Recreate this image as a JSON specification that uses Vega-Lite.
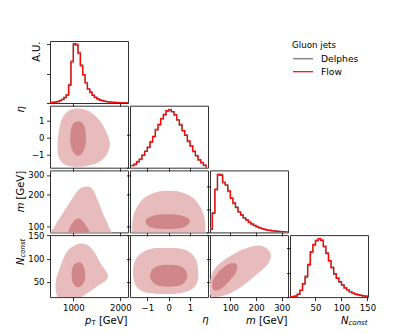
{
"$schema": "https://vega.github.io/schema/vega-lite/v6.json",
"padding": {"left": 14, "top": 40, "right": 5, "bottom": 5},
"columns": 4,
"spacing": {"row": 2.7, "column": 2},
"bounds": "flush",
"datasets": {
"pt": [
{"source":"Delphes","x":500,"y":0.01},{"source":"Delphes","x":550,"y":0.02},{"source":"Delphes","x":600,"y":0.035},{"source":"Delphes","x":650,"y":0.05},{"source":"Delphes","x":700,"y":0.085},{"source":"Delphes","x":750,"y":0.12},{"source":"Delphes","x":800,"y":0.19},{"source":"Delphes","x":850,"y":0.28},{"source":"Delphes","x":900,"y":0.64},{"source":"Delphes","x":950,"y":1.38},{"source":"Delphes","x":1000,"y":1.97},{"source":"Delphes","x":1050,"y":2.0},{"source":"Delphes","x":1100,"y":1.68},{"source":"Delphes","x":1150,"y":1.3},{"source":"Delphes","x":1200,"y":0.95},{"source":"Delphes","x":1250,"y":0.7},{"source":"Delphes","x":1300,"y":0.47},{"source":"Delphes","x":1350,"y":0.36},{"source":"Delphes","x":1400,"y":0.27},{"source":"Delphes","x":1450,"y":0.19},{"source":"Delphes","x":1500,"y":0.14},{"source":"Delphes","x":1550,"y":0.11},{"source":"Delphes","x":1600,"y":0.08},{"source":"Delphes","x":1650,"y":0.06},{"source":"Delphes","x":1700,"y":0.045},{"source":"Delphes","x":1750,"y":0.035},{"source":"Delphes","x":1800,"y":0.025},{"source":"Delphes","x":1850,"y":0.02},{"source":"Delphes","x":1900,"y":0.013},{"source":"Delphes","x":1950,"y":0.01},{"source":"Delphes","x":2000,"y":0.007},{"source":"Delphes","x":2050,"y":0.005},{"source":"Delphes","x":2100,"y":0.003},{"source":"Delphes","x":2150,"y":0},
{"source":"Flow","x":500,"y":0.01},{"source":"Flow","x":550,"y":0.02},{"source":"Flow","x":600,"y":0.03},{"source":"Flow","x":650,"y":0.05},{"source":"Flow","x":700,"y":0.08},{"source":"Flow","x":750,"y":0.12},{"source":"Flow","x":800,"y":0.18},{"source":"Flow","x":850,"y":0.27},{"source":"Flow","x":900,"y":0.6},{"source":"Flow","x":950,"y":1.43},{"source":"Flow","x":1000,"y":2.02},{"source":"Flow","x":1050,"y":1.98},{"source":"Flow","x":1100,"y":1.71},{"source":"Flow","x":1150,"y":1.26},{"source":"Flow","x":1200,"y":0.97},{"source":"Flow","x":1250,"y":0.68},{"source":"Flow","x":1300,"y":0.48},{"source":"Flow","x":1350,"y":0.37},{"source":"Flow","x":1400,"y":0.26},{"source":"Flow","x":1450,"y":0.19},{"source":"Flow","x":1500,"y":0.14},{"source":"Flow","x":1550,"y":0.1},{"source":"Flow","x":1600,"y":0.08},{"source":"Flow","x":1650,"y":0.06},{"source":"Flow","x":1700,"y":0.05},{"source":"Flow","x":1750,"y":0.035},{"source":"Flow","x":1800,"y":0.025},{"source":"Flow","x":1850,"y":0.02},{"source":"Flow","x":1900,"y":0.015},{"source":"Flow","x":1950,"y":0.01},{"source":"Flow","x":2000,"y":0.008},{"source":"Flow","x":2050,"y":0.005},{"source":"Flow","x":2100,"y":0.003},{"source":"Flow","x":2150,"y":0}
],
"eta": [
{"source":"Delphes","x":-1.75,"y":0.013},{"source":"Delphes","x":-1.625,"y":0.02},{"source":"Delphes","x":-1.5,"y":0.037},{"source":"Delphes","x":-1.375,"y":0.05},{"source":"Delphes","x":-1.25,"y":0.077},{"source":"Delphes","x":-1.125,"y":0.1},{"source":"Delphes","x":-1.0,"y":0.122},{"source":"Delphes","x":-0.875,"y":0.158},{"source":"Delphes","x":-0.75,"y":0.187},{"source":"Delphes","x":-0.625,"y":0.232},{"source":"Delphes","x":-0.5,"y":0.258},{"source":"Delphes","x":-0.375,"y":0.298},{"source":"Delphes","x":-0.25,"y":0.318},{"source":"Delphes","x":-0.125,"y":0.342},{"source":"Delphes","x":0,"y":0.352},{"source":"Delphes","x":0.125,"y":0.337},{"source":"Delphes","x":0.25,"y":0.322},{"source":"Delphes","x":0.375,"y":0.287},{"source":"Delphes","x":0.5,"y":0.262},{"source":"Delphes","x":0.625,"y":0.222},{"source":"Delphes","x":0.75,"y":0.198},{"source":"Delphes","x":0.875,"y":0.158},{"source":"Delphes","x":1.0,"y":0.133},{"source":"Delphes","x":1.125,"y":0.097},{"source":"Delphes","x":1.25,"y":0.074},{"source":"Delphes","x":1.375,"y":0.046},{"source":"Delphes","x":1.5,"y":0.031},{"source":"Delphes","x":1.625,"y":0.014},{"source":"Delphes","x":1.75,"y":0},
{"source":"Flow","x":-1.75,"y":0.012},{"source":"Flow","x":-1.625,"y":0.022},{"source":"Flow","x":-1.5,"y":0.035},{"source":"Flow","x":-1.375,"y":0.052},{"source":"Flow","x":-1.25,"y":0.074},{"source":"Flow","x":-1.125,"y":0.098},{"source":"Flow","x":-1.0,"y":0.125},{"source":"Flow","x":-0.875,"y":0.155},{"source":"Flow","x":-0.75,"y":0.19},{"source":"Flow","x":-0.625,"y":0.228},{"source":"Flow","x":-0.5,"y":0.262},{"source":"Flow","x":-0.375,"y":0.295},{"source":"Flow","x":-0.25,"y":0.322},{"source":"Flow","x":-0.125,"y":0.345},{"source":"Flow","x":0,"y":0.35},{"source":"Flow","x":0.125,"y":0.34},{"source":"Flow","x":0.25,"y":0.318},{"source":"Flow","x":0.375,"y":0.29},{"source":"Flow","x":0.5,"y":0.258},{"source":"Flow","x":0.625,"y":0.225},{"source":"Flow","x":0.75,"y":0.195},{"source":"Flow","x":0.875,"y":0.162},{"source":"Flow","x":1.0,"y":0.13},{"source":"Flow","x":1.125,"y":0.1},{"source":"Flow","x":1.25,"y":0.072},{"source":"Flow","x":1.375,"y":0.048},{"source":"Flow","x":1.5,"y":0.03},{"source":"Flow","x":1.625,"y":0.015},{"source":"Flow","x":1.75,"y":0}
],
"mass": [
{"source":"Delphes","x":20,"y":0.15},{"source":"Delphes","x":30,"y":0.86},{"source":"Delphes","x":40,"y":1.83},{"source":"Delphes","x":50,"y":2.46},{"source":"Delphes","x":60,"y":2.5},{"source":"Delphes","x":70,"y":2.13},{"source":"Delphes","x":80,"y":2.05},{"source":"Delphes","x":90,"y":1.76},{"source":"Delphes","x":100,"y":1.5},{"source":"Delphes","x":110,"y":1.24},{"source":"Delphes","x":120,"y":1.09},{"source":"Delphes","x":130,"y":0.87},{"source":"Delphes","x":140,"y":0.76},{"source":"Delphes","x":150,"y":0.61},{"source":"Delphes","x":160,"y":0.54},{"source":"Delphes","x":170,"y":0.43},{"source":"Delphes","x":180,"y":0.37},{"source":"Delphes","x":190,"y":0.29},{"source":"Delphes","x":200,"y":0.25},{"source":"Delphes","x":210,"y":0.19},{"source":"Delphes","x":220,"y":0.16},{"source":"Delphes","x":230,"y":0.125},{"source":"Delphes","x":240,"y":0.1},{"source":"Delphes","x":250,"y":0.08},{"source":"Delphes","x":260,"y":0.07},{"source":"Delphes","x":270,"y":0.055},{"source":"Delphes","x":280,"y":0.045},{"source":"Delphes","x":290,"y":0.035},{"source":"Delphes","x":300,"y":0.028},{"source":"Delphes","x":310,"y":0.02},{"source":"Delphes","x":320,"y":0},
{"source":"Flow","x":20,"y":0.13},{"source":"Flow","x":30,"y":0.82},{"source":"Flow","x":40,"y":1.87},{"source":"Flow","x":50,"y":2.5},{"source":"Flow","x":60,"y":2.46},{"source":"Flow","x":70,"y":2.17},{"source":"Flow","x":80,"y":2.03},{"source":"Flow","x":90,"y":1.79},{"source":"Flow","x":100,"y":1.46},{"source":"Flow","x":110,"y":1.27},{"source":"Flow","x":120,"y":1.07},{"source":"Flow","x":130,"y":0.89},{"source":"Flow","x":140,"y":0.74},{"source":"Flow","x":150,"y":0.63},{"source":"Flow","x":160,"y":0.53},{"source":"Flow","x":170,"y":0.44},{"source":"Flow","x":180,"y":0.36},{"source":"Flow","x":190,"y":0.3},{"source":"Flow","x":200,"y":0.24},{"source":"Flow","x":210,"y":0.2},{"source":"Flow","x":220,"y":0.16},{"source":"Flow","x":230,"y":0.13},{"source":"Flow","x":240,"y":0.1},{"source":"Flow","x":250,"y":0.085},{"source":"Flow","x":260,"y":0.07},{"source":"Flow","x":270,"y":0.057},{"source":"Flow","x":280,"y":0.043},{"source":"Flow","x":290,"y":0.036},{"source":"Flow","x":300,"y":0.03},{"source":"Flow","x":310,"y":0.02},{"source":"Flow","x":320,"y":0}
],
"nconst": [
{"source":"Delphes","x":0,"y":0.01},{"source":"Delphes","x":5,"y":0.02},{"source":"Delphes","x":10,"y":0.05},{"source":"Delphes","x":15,"y":0.12},{"source":"Delphes","x":20,"y":0.29},{"source":"Delphes","x":25,"y":0.52},{"source":"Delphes","x":30,"y":0.86},{"source":"Delphes","x":35,"y":1.3},{"source":"Delphes","x":40,"y":1.82},{"source":"Delphes","x":45,"y":2.12},{"source":"Delphes","x":50,"y":2.33},{"source":"Delphes","x":55,"y":2.37},{"source":"Delphes","x":60,"y":2.34},{"source":"Delphes","x":65,"y":2.05},{"source":"Delphes","x":70,"y":1.81},{"source":"Delphes","x":75,"y":1.46},{"source":"Delphes","x":80,"y":1.23},{"source":"Delphes","x":85,"y":0.93},{"source":"Delphes","x":90,"y":0.79},{"source":"Delphes","x":95,"y":0.61},{"source":"Delphes","x":100,"y":0.5},{"source":"Delphes","x":105,"y":0.37},{"source":"Delphes","x":110,"y":0.3},{"source":"Delphes","x":115,"y":0.21},{"source":"Delphes","x":120,"y":0.17},{"source":"Delphes","x":125,"y":0.12},{"source":"Delphes","x":130,"y":0.09},{"source":"Delphes","x":135,"y":0.07},{"source":"Delphes","x":140,"y":0.05},{"source":"Delphes","x":145,"y":0.035},{"source":"Delphes","x":150,"y":0},
{"source":"Flow","x":0,"y":0.01},{"source":"Flow","x":5,"y":0.02},{"source":"Flow","x":10,"y":0.04},{"source":"Flow","x":15,"y":0.11},{"source":"Flow","x":20,"y":0.27},{"source":"Flow","x":25,"y":0.55},{"source":"Flow","x":30,"y":0.82},{"source":"Flow","x":35,"y":1.34},{"source":"Flow","x":40,"y":1.86},{"source":"Flow","x":45,"y":2.16},{"source":"Flow","x":50,"y":2.3},{"source":"Flow","x":55,"y":2.4},{"source":"Flow","x":60,"y":2.32},{"source":"Flow","x":65,"y":2.09},{"source":"Flow","x":70,"y":1.78},{"source":"Flow","x":75,"y":1.5},{"source":"Flow","x":80,"y":1.2},{"source":"Flow","x":85,"y":0.96},{"source":"Flow","x":90,"y":0.77},{"source":"Flow","x":95,"y":0.63},{"source":"Flow","x":100,"y":0.49},{"source":"Flow","x":105,"y":0.38},{"source":"Flow","x":110,"y":0.29},{"source":"Flow","x":115,"y":0.22},{"source":"Flow","x":120,"y":0.16},{"source":"Flow","x":125,"y":0.12},{"source":"Flow","x":130,"y":0.1},{"source":"Flow","x":135,"y":0.07},{"source":"Flow","x":140,"y":0.05},{"source":"Flow","x":145,"y":0.04},{"source":"Flow","x":150,"y":0}
],
"c21": [
{"level":"outer","i":0,"x":1074,"y":1.72},{"level":"outer","i":1,"x":1288,"y":1.62},{"level":"outer","i":2,"x":1465,"y":1.29},{"level":"outer","i":3,"x":1593,"y":0.88},{"level":"outer","i":4,"x":1700,"y":0.35},{"level":"outer","i":5,"x":1775,"y":-0.24},{"level":"outer","i":6,"x":1743,"y":-0.82},{"level":"outer","i":7,"x":1615,"y":-1.29},{"level":"outer","i":8,"x":1401,"y":-1.59},{"level":"outer","i":9,"x":1102,"y":-1.71},{"level":"outer","i":10,"x":824,"y":-1.59},{"level":"outer","i":11,"x":696,"y":-1.18},{"level":"outer","i":12,"x":664,"y":-0.53},{"level":"outer","i":13,"x":686,"y":0.24},{"level":"outer","i":14,"x":750,"y":1.06},{"level":"outer","i":15,"x":888,"y":1.56},
{"level":"inner","i":0,"x":1102,"y":0.97},{"level":"inner","i":1,"x":1209,"y":0.82},{"level":"inner","i":2,"x":1262,"y":0.35},{"level":"inner","i":3,"x":1262,"y":-0.35},{"level":"inner","i":4,"x":1209,"y":-0.82},{"level":"inner","i":5,"x":1102,"y":-1.06},{"level":"inner","i":6,"x":995,"y":-0.82},{"level":"inner","i":7,"x":942,"y":-0.35},{"level":"inner","i":8,"x":942,"y":0.35},{"level":"inner","i":9,"x":995,"y":0.82}
],
"c31": [
{"level":"outer","i":0,"x":1252,"y":236.7},{"level":"outer","i":1,"x":1395,"y":228.2},{"level":"outer","i":2,"x":1536,"y":171.3},{"level":"outer","i":3,"x":1643,"y":128.7},{"level":"outer","i":4,"x":1749,"y":100},{"level":"outer","i":5,"x":1722,"y":78.9},{"level":"outer","i":6,"x":589,"y":78.9},{"level":"outer","i":7,"x":611,"y":100},{"level":"outer","i":8,"x":754,"y":128.7},{"level":"outer","i":9,"x":931,"y":171.3},{"level":"outer","i":10,"x":1108,"y":220.5},
{"level":"inner","i":0,"x":1087,"y":118.8},{"level":"inner","i":1,"x":1188,"y":113.8},{"level":"inner","i":2,"x":1273,"y":100},{"level":"inner","i":3,"x":1316,"y":84.1},{"level":"inner","i":4,"x":889,"y":78.9},{"level":"inner","i":5,"x":910,"y":91.7},{"level":"inner","i":6,"x":974,"y":106.7}
],
"c41": [
{"level":"outer","i":0,"x":1102,"y":131.8},{"level":"outer","i":1,"x":1316,"y":128.5},{"level":"outer","i":2,"x":1465,"y":111.4},{"level":"outer","i":3,"x":1604,"y":85.6},{"level":"outer","i":4,"x":1732,"y":66.3},{"level":"outer","i":5,"x":1700,"y":53.4},{"level":"outer","i":6,"x":1508,"y":40.6},{"level":"outer","i":7,"x":1294,"y":25.5},{"level":"outer","i":8,"x":1038,"y":10.5},{"level":"outer","i":9,"x":718,"y":10.5},{"level":"outer","i":10,"x":632,"y":29.8},{"level":"outer","i":11,"x":632,"y":53.4},{"level":"outer","i":12,"x":718,"y":81.3},{"level":"outer","i":13,"x":867,"y":115.7},
{"level":"inner","i":0,"x":1113,"y":92.1},{"level":"inner","i":1,"x":1209,"y":85.6},{"level":"inner","i":2,"x":1252,"y":68.5},{"level":"inner","i":3,"x":1230,"y":49.1},{"level":"inner","i":4,"x":1123,"y":38.4},{"level":"inner","i":5,"x":1006,"y":44.8},{"level":"inner","i":6,"x":963,"y":64.2},{"level":"inner","i":7,"x":995,"y":83.5}
],
"c32": [
{"level":"outer","i":0,"x":-0.02,"y":217.2},{"level":"outer","i":1,"x":0.63,"y":210.3},{"level":"outer","i":2,"x":1.15,"y":186.8},{"level":"outer","i":3,"x":1.48,"y":153.8},{"level":"outer","i":4,"x":1.67,"y":121.4},{"level":"outer","i":5,"x":1.71,"y":89.8},{"level":"outer","i":6,"x":1.62,"y":75.6},{"level":"outer","i":7,"x":-1.67,"y":75.6},{"level":"outer","i":8,"x":-1.71,"y":89.8},{"level":"outer","i":9,"x":-1.67,"y":121.4},{"level":"outer","i":10,"x":-1.48,"y":153.8},{"level":"outer","i":11,"x":-1.15,"y":186.8},{"level":"outer","i":12,"x":-0.63,"y":210.3},
{"level":"inner","i":0,"x":-0.07,"y":130.9},{"level":"inner","i":1,"x":0.54,"y":128.1},{"level":"inner","i":2,"x":0.92,"y":118.8},{"level":"inner","i":3,"x":0.96,"y":106.7},{"level":"inner","i":4,"x":0.63,"y":95.8},{"level":"inner","i":5,"x":-0.07,"y":92.7},{"level":"inner","i":6,"x":-0.77,"y":95.8},{"level":"inner","i":7,"x":-1.06,"y":106.7},{"level":"inner","i":8,"x":-1.01,"y":118.8},{"level":"inner","i":9,"x":-0.63,"y":128.1}
],
"c42": [
{"level":"outer","i":0,"x":-0.16,"y":123.2},{"level":"outer","i":1,"x":0.54,"y":122.1},{"level":"outer","i":2,"x":1.01,"y":113.5},{"level":"outer","i":3,"x":1.29,"y":96.4},{"level":"outer","i":4,"x":1.38,"y":72.7},{"level":"outer","i":5,"x":1.34,"y":49.1},{"level":"outer","i":6,"x":1.01,"y":32.0},{"level":"outer","i":7,"x":0.31,"y":24.5},{"level":"outer","i":8,"x":-0.63,"y":24.5},{"level":"outer","i":9,"x":-1.24,"y":29.8},{"level":"outer","i":10,"x":-1.57,"y":44.8},{"level":"outer","i":11,"x":-1.67,"y":70.6},{"level":"outer","i":12,"x":-1.57,"y":96.4},{"level":"outer","i":13,"x":-1.24,"y":113.5},{"level":"outer","i":14,"x":-0.77,"y":122.1},
{"level":"inner","i":0,"x":-0.02,"y":86.7},{"level":"inner","i":1,"x":0.54,"y":83.5},{"level":"inner","i":2,"x":0.82,"y":72.7},{"level":"inner","i":3,"x":0.85,"y":57.7},{"level":"inner","i":4,"x":0.59,"y":43.8},{"level":"inner","i":5,"x":-0.02,"y":39.5},{"level":"inner","i":6,"x":-0.59,"y":43.8},{"level":"inner","i":7,"x":-0.85,"y":57.7},{"level":"inner","i":8,"x":-0.82,"y":72.7},{"level":"inner","i":9,"x":-0.54,"y":83.5}
],
"c43": [
{"level":"outer","i":0,"x":210.4,"y":128.5},{"level":"outer","i":1,"x":242,"y":122.1},{"level":"outer","i":2,"x":257.8,"y":107.1},{"level":"outer","i":3,"x":242,"y":85.6},{"level":"outer","i":4,"x":198.6,"y":64.2},{"level":"outer","i":5,"x":151.2,"y":42.7},{"level":"outer","i":6,"x":99.9,"y":25.5},{"level":"outer","i":7,"x":44.6,"y":17.0},{"level":"outer","i":8,"x":20.9,"y":23.4},{"level":"outer","i":9,"x":20.9,"y":47.0},{"level":"outer","i":10,"x":32.8,"y":72.7},{"level":"outer","i":11,"x":68.3,"y":94.2},{"level":"outer","i":12,"x":123.6,"y":113.5},{"level":"outer","i":13,"x":170.9,"y":124.2},
{"level":"inner","i":0,"x":115.7,"y":89.9},{"level":"inner","i":1,"x":127.5,"y":83.5},{"level":"inner","i":2,"x":119.6,"y":68.5},{"level":"inner","i":3,"x":92,"y":49.1},{"level":"inner","i":4,"x":60.4,"y":34.1},{"level":"inner","i":5,"x":36.7,"y":32.0},{"level":"inner","i":6,"x":28.8,"y":42.7},{"level":"inner","i":7,"x":36.7,"y":57.7},{"level":"inner","i":8,"x":60.4,"y":74.9},{"level":"inner","i":9,"x":92,"y":87.8}
],
"empty": []
},
"concat": [
{"width":78,"height":62,"data":{"name":"pt"},
 "mark":{"type":"line","interpolate":"step-after","clip":true},
 "encoding":{
  "x":{"field":"x","type":"quantitative","scale":{"domain":[504,2164],"nice":false,"zero":false},"axis":{"values":[1000,2000],"labels":false,"title":null}},
  "y":{"field":"y","type":"quantitative","scale":{"domain":[0,2.11],"nice":false},"axis":{"values":[0,1,2],"labels":false,"title":"A.U.","titlePadding":5}},
  "stroke":{"field":"source","type":"nominal","scale":{"domain":["Delphes","Flow"],"range":["#8c8c8c","#ff0000"]},"legend":{"title":"Gluon jets","orient":"none","legendX":242,"legendY":0,"symbolType":"M-1,0H3","symbolSize":100,"symbolStrokeWidth":1.5,"symbolFillColor":"transparent","labelOffset":17,"rowPadding":1,"titlePadding":3}},
  "strokeWidth":{"field":"source","type":"nominal","scale":{"domain":["Delphes","Flow"],"range":[1.6,1.2]},"legend":null}
 }},
{"width":78,"height":62,"view":{"stroke":null},"data":{"name":"empty"},"mark":"point","encoding":{}},
{"width":78,"height":62,"view":{"stroke":null},"data":{"name":"empty"},"mark":"point","encoding":{}},
{"width":78,"height":62,"view":{"stroke":null},"data":{"name":"empty"},"mark":"point","encoding":{}},
{"width":78,"height":62,"data":{"name":"c21"},
 "mark":{"type":"line","interpolate":"cardinal-closed","clip":true,"strokeWidth":0,"strokeOpacity":0},
 "encoding":{
  "x":{"field":"x","type":"quantitative","scale":{"domain":[504,2164],"nice":false,"zero":false},"axis":{"values":[1000,2000],"labels":false,"title":null}},
  "y":{"field":"y","type":"quantitative","scale":{"domain":[-1.76,1.88],"nice":false,"zero":false},"axis":{"values":[-1,0,1],"title":"η","titleFontStyle":"italic","titlePadding":6,"labelExpr":"replace(datum.label, '-', '−')"}},
  "fill":{"field":"level","type":"nominal","scale":{"domain":["outer","inner"],"range":["#e8bcbc","#d1868a"]},"legend":null},
  "order":{"field":"i","type":"quantitative"}
 }},
{"width":78,"height":62,"data":{"name":"eta"},
 "mark":{"type":"line","interpolate":"step-after","clip":true},
 "encoding":{
  "x":{"field":"x","type":"quantitative","scale":{"domain":[-1.81,1.84],"nice":false,"zero":false},"axis":{"values":[-1,0,1],"labels":false,"title":null}},
  "y":{"field":"y","type":"quantitative","scale":{"domain":[0,0.375],"nice":false},"axis":{"values":[0,0.2],"labels":false,"title":null}},
  "stroke":{"field":"source","type":"nominal","scale":{"domain":["Delphes","Flow"],"range":["#8c8c8c","#ff0000"]},"legend":{"title":"Gluon jets","orient":"none","legendX":242,"legendY":0,"symbolType":"M-1,0H3","symbolSize":100,"symbolStrokeWidth":1.5,"symbolFillColor":"transparent","labelOffset":17,"rowPadding":1,"titlePadding":3}},
  "strokeWidth":{"field":"source","type":"nominal","scale":{"domain":["Delphes","Flow"],"range":[1.6,1.2]},"legend":null}
 }},
{"width":78,"height":62,"view":{"stroke":null},"data":{"name":"empty"},"mark":"point","encoding":{}},
{"width":78,"height":62,"view":{"stroke":null},"data":{"name":"empty"},"mark":"point","encoding":{}},
{"width":78,"height":62,
 "resolve":{"scale":{"x":"independent","y":"independent"},"axis":{"x":"independent","y":"independent"}},
 "layer":[
  {"data":{"name":"c31"},
   "mark":{"type":"line","interpolate":"cardinal-closed","clip":true,"strokeWidth":0,"strokeOpacity":0},
   "encoding":{
    "x":{"field":"x","type":"quantitative","scale":{"domain":[504,2164],"nice":false,"zero":false},"axis":{"orient":"bottom","values":[1000,2000],"labels":false,"title":null}},
    "y":{"field":"y","type":"quantitative","scale":{"type":"pow","exponent":0.15,"domain":[86,328],"nice":false,"zero":false},"axis":{"orient":"left","values":[100,200,300],"format":"d","title":"m","titleFontStyle":"italic","titleAlign":"left","titleBaseline":"alphabetic","titleX":-27,"titleY":41.4}},
    "fill":{"field":"level","type":"nominal","scale":{"domain":["outer","inner"],"range":["#e8bcbc","#d1868a"]},"legend":null},
    "order":{"field":"i","type":"quantitative"}
   }},
  {"data":{"name":"empty"},"mark":"point",
   "encoding":{
    "y":{"field":"y","type":"quantitative","scale":{"type":"pow","exponent":0.15,"domain":[86,328],"nice":false,"zero":false},"axis":{"orient":"left","labels":false,"ticks":false,"title":"[GeV]","titleAlign":"right","titleBaseline":"alphabetic","titleX":-27,"titleY":0}}
   }}
 ]},
{"width":78,"height":62,"data":{"name":"c32"},
 "mark":{"type":"line","interpolate":"cardinal-closed","clip":true,"strokeWidth":0,"strokeOpacity":0},
 "encoding":{
  "x":{"field":"x","type":"quantitative","scale":{"domain":[-1.81,1.84],"nice":false,"zero":false},"axis":{"values":[-1,0,1],"labels":false,"title":null}},
  "y":{"field":"y","type":"quantitative","scale":{"type":"pow","exponent":0.15,"domain":[86,328],"nice":false,"zero":false},"axis":{"values":[100,200,300],"labels":false,"title":null}},
  "fill":{"field":"level","type":"nominal","scale":{"domain":["outer","inner"],"range":["#e8bcbc","#d1868a"]},"legend":null},
  "order":{"field":"i","type":"quantitative"}
 }},
{"width":78,"height":62,"data":{"name":"mass"},
 "mark":{"type":"line","interpolate":"step-after","clip":true},
 "encoding":{
  "x":{"field":"x","type":"quantitative","scale":{"domain":[21,324],"nice":false,"zero":false},"axis":{"values":[100,200,300],"labels":false,"title":null}},
  "y":{"field":"y","type":"quantitative","scale":{"domain":[0,2.67],"nice":false},"axis":{"values":[0,1,2],"labels":false,"title":null}},
  "stroke":{"field":"source","type":"nominal","scale":{"domain":["Delphes","Flow"],"range":["#8c8c8c","#ff0000"]},"legend":{"title":"Gluon jets","orient":"none","legendX":242,"legendY":0,"symbolType":"M-1,0H3","symbolSize":100,"symbolStrokeWidth":1.5,"symbolFillColor":"transparent","labelOffset":17,"rowPadding":1,"titlePadding":3}},
  "strokeWidth":{"field":"source","type":"nominal","scale":{"domain":["Delphes","Flow"],"range":[1.6,1.2]},"legend":null}
 }},
{"width":78,"height":62,"view":{"stroke":null},"data":{"name":"empty"},"mark":"point","encoding":{}},
{"width":78,"height":62,
 "resolve":{"scale":{"x":"independent","y":"independent"},"axis":{"x":"independent","y":"independent"}},
 "layer":[
  {"data":{"name":"c41"},
   "mark":{"type":"line","interpolate":"cardinal-closed","clip":true,"strokeWidth":0,"strokeOpacity":0},
   "encoding":{
    "x":{"field":"x","type":"quantitative","scale":{"domain":[504,2164],"nice":false,"zero":false},"axis":{"orient":"bottom","values":[1000,2000],"format":"d","title":"p","titleFontStyle":"italic","titleAlign":"left","titleBaseline":"alphabetic","titleX":34.5,"titleY":26}},
    "y":{"field":"y","type":"quantitative","scale":{"domain":[17,151],"nice":false,"zero":false},"axis":{"orient":"left","values":[50,100,150],"title":"N","titleFontStyle":"italic","titleAlign":"left","titleBaseline":"alphabetic","titleX":-27,"titleY":29.5}},
    "fill":{"field":"level","type":"nominal","scale":{"domain":["outer","inner"],"range":["#e8bcbc","#d1868a"]},"legend":null},
    "order":{"field":"i","type":"quantitative"}
   }},
  {"data":{"name":"empty"},"mark":"point",
   "encoding":{
    "x":{"field":"x","type":"quantitative","scale":{"domain":[504,2164],"nice":false,"zero":false},"axis":{"orient":"bottom","labels":false,"ticks":false,"title":"T","titleFontSize":7,"titleAlign":"left","titleBaseline":"alphabetic","titleX":41,"titleY":27.7}},
    "y":{"field":"y","type":"quantitative","scale":{"domain":[17,151],"nice":false,"zero":false},"axis":{"orient":"left","labels":false,"ticks":false,"title":"const","titleFontSize":7,"titleFontStyle":"italic","titleAlign":"left","titleBaseline":"alphabetic","titleX":-25.5,"titleY":22}}
   }},
  {"data":{"name":"empty"},"mark":"point",
   "encoding":{
    "x":{"field":"x","type":"quantitative","scale":{"domain":[504,2164],"nice":false,"zero":false},"axis":{"orient":"bottom","labels":false,"ticks":false,"title":"[GeV]","titleAlign":"right","titleBaseline":"alphabetic","titleX":77,"titleY":26}}
   }}
 ]},
{"width":78,"height":62,"data":{"name":"c42"},
 "mark":{"type":"line","interpolate":"cardinal-closed","clip":true,"strokeWidth":0,"strokeOpacity":0},
 "encoding":{
  "x":{"field":"x","type":"quantitative","scale":{"domain":[-1.81,1.84],"nice":false,"zero":false},"axis":{"values":[-1,0,1],"title":"η","titleFontStyle":"italic","labelExpr":"replace(datum.label, '-', '−')"}},
  "y":{"field":"y","type":"quantitative","scale":{"domain":[17,151],"nice":false,"zero":false},"axis":{"values":[50,100,150],"labels":false,"title":null}},
  "fill":{"field":"level","type":"nominal","scale":{"domain":["outer","inner"],"range":["#e8bcbc","#d1868a"]},"legend":null},
  "order":{"field":"i","type":"quantitative"}
 }},
{"width":78,"height":62,
 "resolve":{"scale":{"x":"independent","y":"independent"},"axis":{"x":"independent","y":"independent"}},
 "layer":[
  {"data":{"name":"c43"},
   "mark":{"type":"line","interpolate":"cardinal-closed","clip":true,"strokeWidth":0,"strokeOpacity":0},
   "encoding":{
    "x":{"field":"x","type":"quantitative","scale":{"domain":[21,324],"nice":false,"zero":false},"axis":{"orient":"bottom","values":[100,200,300],"format":"d","title":"m","titleFontStyle":"italic","titleAlign":"left","titleBaseline":"alphabetic","titleX":35.5,"titleY":26}},
    "y":{"field":"y","type":"quantitative","scale":{"domain":[17,151],"nice":false,"zero":false},"axis":{"orient":"left","values":[50,100,150],"labels":false,"title":null}},
    "fill":{"field":"level","type":"nominal","scale":{"domain":["outer","inner"],"range":["#e8bcbc","#d1868a"]},"legend":null},
    "order":{"field":"i","type":"quantitative"}
   }},
  {"data":{"name":"empty"},"mark":"point",
   "encoding":{
    "x":{"field":"x","type":"quantitative","scale":{"domain":[21,324],"nice":false,"zero":false},"axis":{"orient":"bottom","labels":false,"ticks":false,"title":"[GeV]","titleAlign":"right","titleBaseline":"alphabetic","titleX":77,"titleY":26}}
   }}
 ]},
{"width":78,"height":62,
 "resolve":{"scale":{"x":"independent"},"axis":{"x":"independent"}},
 "layer":[
  {"data":{"name":"nconst"},
   "mark":{"type":"line","interpolate":"step-after","clip":true},
   "encoding":{
    "x":{"field":"x","type":"quantitative","scale":{"domain":[1,151],"nice":false,"zero":false},"axis":{"orient":"bottom","values":[50,100,150],"format":"d","title":"N","titleFontStyle":"italic","titleAlign":"left","titleBaseline":"alphabetic","titleX":50.5,"titleY":26}},
    "y":{"field":"y","type":"quantitative","scale":{"domain":[0,2.54],"nice":false},"axis":{"values":[0,1,2],"labels":false,"title":null}},
    "stroke":{"field":"source","type":"nominal","scale":{"domain":["Delphes","Flow"],"range":["#8c8c8c","#ff0000"]},"legend":{"title":"Gluon jets","orient":"none","legendX":242,"legendY":0,"symbolType":"M-1,0H3","symbolSize":100,"symbolStrokeWidth":1.5,"symbolFillColor":"transparent","labelOffset":17,"rowPadding":1,"titlePadding":3}},
    "strokeWidth":{"field":"source","type":"nominal","scale":{"domain":["Delphes","Flow"],"range":[1.6,1.2]},"legend":null}
   }},
  {"data":{"name":"empty"},"mark":"point",
   "encoding":{
    "x":{"field":"x","type":"quantitative","scale":{"domain":[1,151],"nice":false,"zero":false},"axis":{"orient":"bottom","labels":false,"ticks":false,"title":"const","titleFontSize":7,"titleFontStyle":"italic","titleAlign":"left","titleBaseline":"alphabetic","titleX":58,"titleY":27.7}}
   }}
 ]}
],
"config": {
 "font": "DejaVu Sans",
 "view": {"stroke": "#333", "strokeWidth": 1},
 "axis": {"grid": false, "domain": false, "ticks": true, "tickSize": 3.5, "tickColor": "#000", "tickWidth": 0.8, "labelFontSize": 8.5, "labelColor": "#000", "labelPadding": 2.5, "titleFontSize": 10, "titleFontWeight": "normal", "titleColor": "#000", "labelFlush": false, "labelOverlap": false},
 "axisX": {"titleAnchor": "end", "titlePadding": 3},
 "axisY": {"titleAnchor": "end"},
 "legend": {"titleFontSize": 8.7, "titleFontWeight": "normal", "titleColor": "#000", "labelFontSize": 9.2, "labelColor": "#000"}
}
}
